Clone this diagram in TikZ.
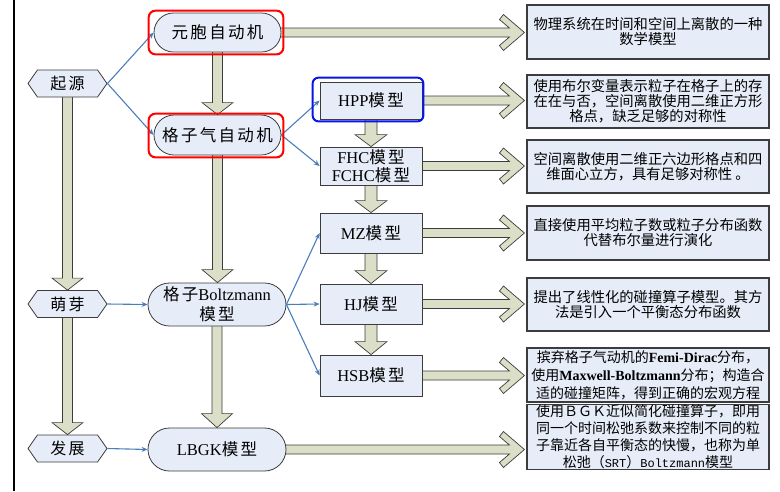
\documentclass[tikz,border=0pt]{standalone}
\usepackage{fontspec}
\setmainfont{Noto Sans CJK SC}
\newfontfamily\zhsp{Noto Sans CJK SC}[LetterSpace=14]
\newfontfamily\lat{Liberation Serif}
\newfontfamily\mon{Liberation Mono}
\usetikzlibrary{shapes.misc,shapes.symbols,arrows.meta,calc}

\definecolor{nodefill}{HTML}{E6EDF8}
\definecolor{edgegray}{HTML}{3C3C3C}
\definecolor{fatfill}{HTML}{DCDFC8}
\definecolor{linkblue}{HTML}{4A7EBB}
\definecolor{hlred}{HTML}{FF0000}
\definecolor{hlblue}{HTML}{0A14E6}

\pgfdeclarelayer{bg}
\pgfsetlayers{bg,main}

% downward block arrow from #1.south to #2.north
% #3 shaft half width, #4 head half width, #5 head length
\newcommand\dfat[5]{%
  \begin{pgfonlayer}{bg}
  \draw[fatarrow] let \p1=(#1.south), \p2=(#2.north) in
    (\x1-#3,\y1+3pt) -- (\x1-#3,\y2+#5) -- (\x1-#4,\y2+#5) -- (\x1,\y2)
    -- (\x1+#4,\y2+#5) -- (\x1+#3,\y2+#5) -- (\x1+#3,\y1+3pt) -- cycle;
  \end{pgfonlayer}}

% rightward chevron arrow from #1.east to the left side of #2
\newcommand\rfat[2]{%
  \begin{pgfonlayer}{bg}
  \draw[fatarrow] let \p1=(#1.east), \p2=(#2.west) in
    (\x1-4pt,\y1+4.5pt) -- (\x2-17pt,\y1+4.5pt) -- (\x2-27pt,\y1+13pt)
    -- (\x2-23pt,\y1+18pt) -- (\x2-2pt,\y1) -- (\x2-23pt,\y1-18pt)
    -- (\x2-27pt,\y1-13pt) -- (\x2-17pt,\y1-4.5pt) -- (\x1-4pt,\y1-4.5pt) -- cycle;
  \end{pgfonlayer}}

% rounded frame around node #2, margins left/right/top/bottom #3..#6
\newcommand\frameit[6]{%
  \draw[hilite,#1] let \p1=(#2.west), \p2=(#2.north), \p3=(#2.east), \p4=(#2.south) in
    (\x1-#3,\y2+#5) rectangle (\x3+#4,\y4-#6);}

\begin{document}
\begin{tikzpicture}[x=1pt,y=-1pt,
  stage/.style={signal, signal to=east and west, signal pointer angle=110,
    draw=edgegray, fill=nodefill, line width=0.8pt,
    minimum width=79pt, minimum height=27pt, inner sep=0pt,
    font=\zhsp\fontsize{16}{18}\selectfont},
  stadium/.style={rounded rectangle, draw=edgegray, fill=nodefill, line width=0.8pt,
    inner sep=0pt, align=center, font=\zhsp\fontsize{16.5}{20}\selectfont},
  model/.style={rectangle, draw=edgegray, fill=nodefill, line width=0.8pt,
    minimum width=102pt, inner sep=0pt, align=center,
    font=\zhsp\fontsize{16.5}{18}\selectfont},
  note/.style={rectangle, draw=edgegray, fill=nodefill, line width=1.1pt,
    minimum width=242pt, inner sep=0pt, align=center,
    font=\fontsize{14.3}{15}\selectfont},
  fatarrow/.style={draw=edgegray, fill=fatfill, line width=0.7pt, line join=miter},
  link/.style={draw=linkblue, line width=1.1pt, -{Stealth[length=6pt,width=5pt]}},
  hilite/.style={line width=2pt, rounded corners=7pt}]

\useasboundingbox (0,0) rectangle (780,491);
\begin{pgfonlayer}{bg}
\fill[white] (0,0) rectangle (780,491);
\end{pgfonlayer}
\draw[black, line width=2.6pt] (14,0) -- (14,491);

% stages
\node[stage] (qy) at (67.5,83.5) {起源};
\node[stage] (my) at (67.5,304) {萌芽};
\node[stage] (fz) at (67.5,448.5) {发展};

% main line of models
\node[stadium, minimum width=127pt, minimum height=39pt] (ya) at (217.5,32.5) {元胞自动机};
\node[stadium, minimum width=127pt, minimum height=40pt] (gq) at (217.5,135) {格子气自动机};
\node[stadium, minimum width=138pt, minimum height=43pt] (lb) at (217,304.5) {格子{\lat Boltzmann}\\模型};
\node[stadium, minimum width=138pt, minimum height=43pt] (lbgk) at (217,449.5) {{\lat LBGK}模型};

% individual models
\node[model, minimum height=37pt] (hpp) at (371,100.5) {{\lat HPP}模型};
\node[model, minimum height=38pt] (fhc) at (371,166) {{\lat FHC}模型\\{\lat FCHC}模型};
\node[model, minimum height=40pt] (mz) at (371,233) {{\lat MZ}模型};
\node[model, minimum height=40pt] (hj) at (371,304) {{\lat HJ}模型};
\node[model, minimum height=41pt] (hsb) at (371,375.5) {{\lat HSB}模型};

% descriptions
\node[note, minimum height=54pt] (t1) at (648,32) {物理系统在时间和空间上离散的一种\\数学模型};
\node[note, minimum height=53pt] (t2) at (648,101.5) {使用布尔变量表示粒子在格子上的存\\在在与否，空间离散使用二维正方形\\格点，缺乏足够的对称性};
\node[note, minimum height=53pt] (t3) at (648,166.5) {空间离散使用二维正六边形格点和四\\维面心立方，具有足够对称性 。};
\node[note, minimum height=54pt] (t4) at (648,233) {直接使用平均粒子数或粒子分布函数\\代替布尔量进行演化};
\node[note, minimum height=53pt] (t5) at (648,304.5) {提出了线性化的碰撞算子模型。其方\\法是引入一个平衡态分布函数};
\node[note, minimum height=54pt, font=\fontsize{14}{18}\selectfont] (t6) at (648,375)
  {摈弃格子气动机的{\lat\bfseries Femi-Dirac}分布，\\使用{\lat\bfseries Maxwell-Boltzmann}分布；构造合\\适的碰撞矩阵，得到正确的宏观方程};
\node[note, minimum height=60pt, font=\fontsize{14}{17}\selectfont] (t7) at (648,437)
  {使用ＢＧＫ近似简化碰撞算子，即用\\同一个时间松弛系数来控制不同的粒\\子靠近各自平衡态的快慢，也称为单\\松弛（{\mon\fontsize{12}{17}\selectfont SRT}）{\mon\fontsize{12}{17}\selectfont Boltzmann}模型};

% block arrows
\dfat{qy}{my}{5pt}{15.5pt}{12pt}
\dfat{my}{fz}{5pt}{15.5pt}{12pt}
\dfat{ya}{gq}{5pt}{15.5pt}{12pt}
\dfat{gq}{lb}{5pt}{15.5pt}{13pt}
\dfat{lb}{lbgk}{5pt}{15.5pt}{14pt}
\dfat{hpp}{fhc}{6pt}{16pt}{12pt}
\dfat{fhc}{mz}{6pt}{16pt}{12pt}
\dfat{mz}{hj}{6pt}{16pt}{13pt}
\dfat{hj}{hsb}{6pt}{16pt}{13pt}

\rfat{ya}{t1}
\rfat{hpp}{t2}
\rfat{fhc}{t3}
\rfat{mz}{t4}
\rfat{hj}{t5}
\rfat{hsb}{t6}
\rfat{lbgk}{t7}

% thin links
\draw[link] (qy.east) -- (ya.west);
\draw[link] (qy.east) -- (gq.west);
\draw[link] (gq.east) -- (hpp.west);
\draw[link] (gq.east) -- (fhc.west);
\draw[link] (my.east) -- (lb.west);
\draw[link] (lb.east) -- (mz.west);
\draw[link] (lb.east) -- (hj.west);
\draw[link] (lb.east) -- (hsb.west);
\draw[link] (fz.east) -- (lbgk.west);

% highlight frames
\frameit{hlred}{ya}{5pt}{2pt}{2pt}{2pt}
\frameit{hlred}{gq}{5pt}{2pt}{1pt}{2pt}
\frameit{hlblue, rounded corners=6pt}{hpp}{7pt}{1pt}{4pt}{2pt}
\end{tikzpicture}
\end{document}
